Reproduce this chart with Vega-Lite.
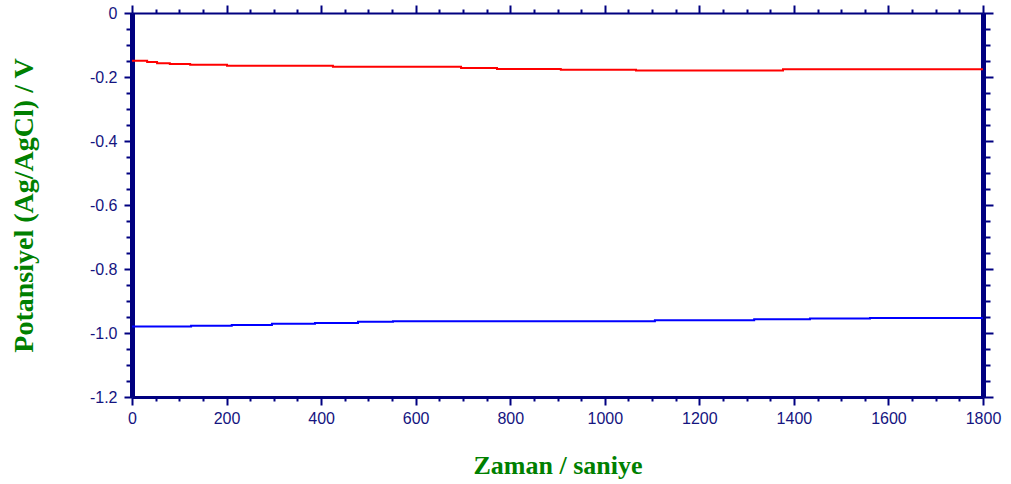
{
  "$schema": "https://vega.github.io/schema/vega-lite/v6.json",
  "width": 851,
  "height": 384,
  "autosize": "none",
  "padding": {"left": 132, "top": 13, "right": 28, "bottom": 87},
  "background": "white",
  "config": {
    "view": {"stroke": null},
    "axis": {
      "grid": false,
      "domainColor": "#000080",
      "tickColor": "#000080",
      "tickWidth": 2,
      "labelColor": "#14147f",
      "labelFont": "Liberation Sans",
      "labelFontSize": 16,
      "labelOverlap": false,
      "labelBound": false,
      "labelFlush": false,
      "titleFont": "Liberation Serif",
      "titleFontWeight": "bold",
      "titleFontSize": 26,
      "titleColor": "#008000"
    }
  },
  "data": {
    "values": [
      {"t": 0, "V": -0.149, "series": "A"},
      {"t": 32, "V": -0.153, "series": "A"},
      {"t": 53, "V": -0.157, "series": "A"},
      {"t": 80, "V": -0.159, "series": "A"},
      {"t": 123, "V": -0.162, "series": "A"},
      {"t": 201, "V": -0.165, "series": "A"},
      {"t": 425, "V": -0.168, "series": "A"},
      {"t": 696, "V": -0.172, "series": "A"},
      {"t": 772, "V": -0.175, "series": "A"},
      {"t": 907, "V": -0.177, "series": "A"},
      {"t": 1066, "V": -0.18, "series": "A"},
      {"t": 1377, "V": -0.176, "series": "A"},
      {"t": 1800, "V": -0.176, "series": "A"},
      {"t": 0, "V": -0.98, "series": "B"},
      {"t": 125, "V": -0.977, "series": "B"},
      {"t": 211, "V": -0.975, "series": "B"},
      {"t": 296, "V": -0.971, "series": "B"},
      {"t": 387, "V": -0.969, "series": "B"},
      {"t": 478, "V": -0.965, "series": "B"},
      {"t": 552, "V": -0.963, "series": "B"},
      {"t": 1106, "V": -0.96, "series": "B"},
      {"t": 1316, "V": -0.957, "series": "B"},
      {"t": 1434, "V": -0.955, "series": "B"},
      {"t": 1561, "V": -0.953, "series": "B"},
      {"t": 1800, "V": -0.953, "series": "B"}
    ]
  },
  "layer": [
    {
      "mark": {"type": "line", "interpolate": "step-after", "strokeWidth": 2},
      "encoding": {
        "x": {
          "field": "t",
          "type": "quantitative",
          "scale": {"domain": [0, 1800], "nice": false},
          "axis": {
            "orient": "bottom",
            "title": "Zaman / saniye",
            "titleBaseline": "alphabetic",
            "titleY": 76,
            "domainWidth": 3,
            "values": [0,50,100,150,200,250,300,350,400,450,500,550,600,650,700,750,800,850,900,950,1000,1050,1100,1150,1200,1250,1300,1350,1400,1450,1500,1550,1600,1650,1700,1750,1800],
            "format": "d",
            "labelExpr": "datum.value % 200 == 0 ? datum.label : ''",
            "tickSize": {"condition": {"test": "datum.value % 200 == 0", "value": 8}, "value": 4},
            "labelPadding": 5
          }
        },
        "y": {
          "field": "V",
          "type": "quantitative",
          "scale": {"domain": [-1.2, 0], "nice": false, "zero": false},
          "axis": {
            "orient": "left",
            "title": "Potansiyel (Ag/AgCl) / V",
            "titleFontSize": 28,
            "titleAngle": 270,
            "titleAlign": "center",
            "titleBaseline": "alphabetic",
            "titleX": -100,
            "titleY": 192,
            "domainWidth": 5,
            "values": [0,-0.05,-0.1,-0.15,-0.2,-0.25,-0.3,-0.35,-0.4,-0.45,-0.5,-0.55,-0.6,-0.65,-0.7,-0.75,-0.8,-0.85,-0.9,-0.95,-1,-1.05,-1.1,-1.15,-1.2],
            "labelExpr": "datum.value == 0 ? '0' : (abs(datum.value * 5 - round(datum.value * 5)) < 0.000001 ? '-' + format(abs(datum.value), '.1f') : '')",
            "tickSize": {"condition": {"test": "abs(datum.value * 5 - round(datum.value * 5)) < 0.000001", "value": 8}, "value": 6},
            "labelPadding": 7
          }
        },
        "color": {
          "field": "series",
          "type": "nominal",
          "scale": {"domain": ["A", "B"], "range": ["#ff0000", "#0000ff"]},
          "legend": null
        }
      }
    },
    {
      "mark": {"type": "line", "interpolate": "step-after", "opacity": 0},
      "encoding": {
        "x": {
          "field": "t",
          "type": "quantitative",
          "axis": {
            "orient": "top",
            "title": null,
            "labels": false,
            "domainWidth": 2,
            "values": [0,50,100,150,200,250,300,350,400,450,500,550,600,650,700,750,800,850,900,950,1000,1050,1100,1150,1200,1250,1300,1350,1400,1450,1500,1550,1600,1650,1700,1750,1800],
            "tickSize": {"condition": {"test": "datum.value % 200 == 0", "value": 8}, "value": 4}
          }
        },
        "y": {
          "field": "V",
          "type": "quantitative",
          "axis": {
            "orient": "right",
            "title": null,
            "labels": false,
            "domainWidth": 5,
            "values": [0,-0.05,-0.1,-0.15,-0.2,-0.25,-0.3,-0.35,-0.4,-0.45,-0.5,-0.55,-0.6,-0.65,-0.7,-0.75,-0.8,-0.85,-0.9,-0.95,-1,-1.05,-1.1,-1.15,-1.2],
            "tickSize": {"condition": {"test": "abs(datum.value * 5 - round(datum.value * 5)) < 0.000001", "value": 10}, "value": 7}
          }
        },
        "detail": {"field": "series", "type": "nominal"}
      }
    }
  ],
  "resolve": {"axis": {"x": "independent", "y": "independent"}}
}
